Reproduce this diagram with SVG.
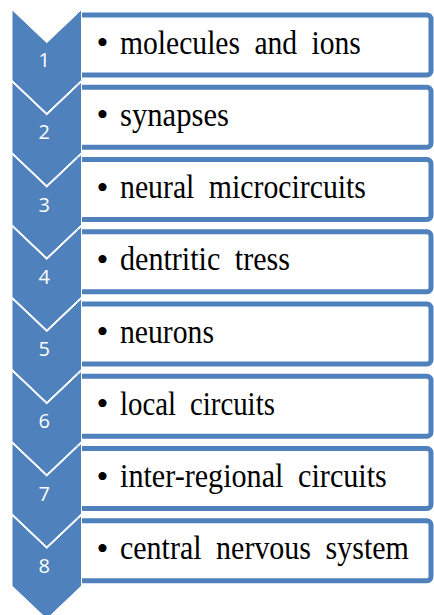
<svg xmlns="http://www.w3.org/2000/svg" width="434" height="615" viewBox="0 0 434 615">
<style>
.box{fill:#ffffff;stroke:#4f81bd;stroke-width:5}
.chev{fill:#4f81bd;stroke:#ffffff;stroke-width:1}
.num{font-family:"Open Sans","Liberation Sans",sans-serif;font-size:20px;fill:#ffffff;text-anchor:middle}
.lbl{font-family:"Liberation Serif","Times New Roman",serif;font-size:34px;fill:#000000;word-spacing:8px}
.bul{font-family:"Liberation Serif","Times New Roman",serif;font-size:34px;fill:#000000;text-anchor:middle}
</style>
<rect width="434" height="615" fill="#ffffff"/>
<g id="node1">
<path class="box" d="M79.5 15 H427 A4 4 0 0 1 431 19 V71 A4 4 0 0 1 427 75 H79.5 Z"/>
<polygon class="chev" points="12,9.7 46.75,42.7 81.5,9.7 81.5,80.2 46.75,113.2 12,80.2"/>
<text class="num" x="44.3" y="67">1</text>
<text class="bul" x="102.5" y="54">•</text>
<text class="lbl" transform="translate(120 53.5) scale(0.871 1)">molecules and ions</text>
</g>
<g id="node2">
<path class="box" d="M79.5 87.25 H427 A4 4 0 0 1 431 91.25 V143.25 A4 4 0 0 1 427 147.25 H79.5 Z"/>
<polygon class="chev" points="12,81.95 46.75,114.95 81.5,81.95 81.5,152.45 46.75,185.45 12,152.45"/>
<text class="num" x="44.3" y="139.25">2</text>
<text class="bul" x="102.5" y="126.25">•</text>
<text class="lbl" transform="translate(120 125.75) scale(0.902 1)">synapses</text>
</g>
<g id="node3">
<path class="box" d="M79.5 159.5 H427 A4 4 0 0 1 431 163.5 V215.5 A4 4 0 0 1 427 219.5 H79.5 Z"/>
<polygon class="chev" points="12,154.2 46.75,187.2 81.5,154.2 81.5,224.7 46.75,257.7 12,224.7"/>
<text class="num" x="44.3" y="211.5">3</text>
<text class="bul" x="102.5" y="198.5">•</text>
<text class="lbl" transform="translate(120 198) scale(0.876 1)">neural microcircuits</text>
</g>
<g id="node4">
<path class="box" d="M79.5 231.75 H427 A4 4 0 0 1 431 235.75 V287.75 A4 4 0 0 1 427 291.75 H79.5 Z"/>
<polygon class="chev" points="12,226.45 46.75,259.45 81.5,226.45 81.5,296.95 46.75,329.95 12,296.95"/>
<text class="num" x="44.3" y="283.75">4</text>
<text class="bul" x="102.5" y="270.75">•</text>
<text class="lbl" transform="translate(120 270.25) scale(0.885 1)">dentritic tress</text>
</g>
<g id="node5">
<path class="box" d="M79.5 304 H427 A4 4 0 0 1 431 308 V360 A4 4 0 0 1 427 364 H79.5 Z"/>
<polygon class="chev" points="12,298.7 46.75,331.7 81.5,298.7 81.5,369.2 46.75,402.2 12,369.2"/>
<text class="num" x="44.3" y="356">5</text>
<text class="bul" x="102.5" y="343">•</text>
<text class="lbl" transform="translate(120 342.5) scale(0.873 1)">neurons</text>
</g>
<g id="node6">
<path class="box" d="M79.5 376.25 H427 A4 4 0 0 1 431 380.25 V432.25 A4 4 0 0 1 427 436.25 H79.5 Z"/>
<polygon class="chev" points="12,370.95 46.75,403.95 81.5,370.95 81.5,441.45 46.75,474.45 12,441.45"/>
<text class="num" x="44.3" y="428.25">6</text>
<text class="bul" x="102.5" y="415.25">•</text>
<text class="lbl" transform="translate(120 414.75) scale(0.848 1)">local circuits</text>
</g>
<g id="node7">
<path class="box" d="M79.5 448.5 H427 A4 4 0 0 1 431 452.5 V504.5 A4 4 0 0 1 427 508.5 H79.5 Z"/>
<polygon class="chev" points="12,443.2 46.75,476.2 81.5,443.2 81.5,513.7 46.75,546.7 12,513.7"/>
<text class="num" x="44.3" y="500.5">7</text>
<text class="bul" x="102.5" y="487.5">•</text>
<text class="lbl" transform="translate(120 487) scale(0.887 1)">inter-regional circuits</text>
</g>
<g id="node8">
<path class="box" d="M79.5 520.75 H427 A4 4 0 0 1 431 524.75 V576.75 A4 4 0 0 1 427 580.75 H79.5 Z"/>
<polygon class="chev" points="12,515.45 46.75,548.45 81.5,515.45 81.5,585.95 46.75,618.95 12,585.95"/>
<text class="num" x="44.3" y="573">8</text>
<text class="bul" x="102.5" y="559.75">•</text>
<text class="lbl" transform="translate(120 559.25) scale(0.882 1)">central nervous system</text>
</g>
<g id="connectors"/>
</svg>
